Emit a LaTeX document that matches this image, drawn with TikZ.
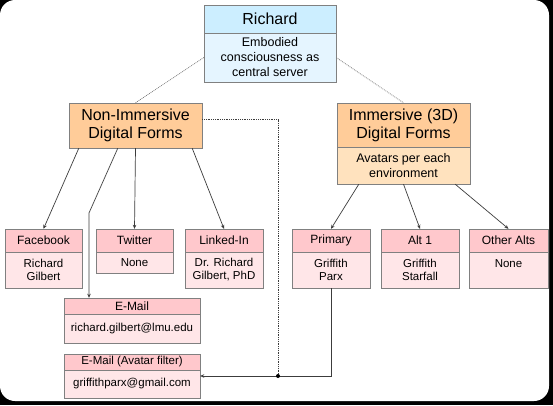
\documentclass[tikz,border=0pt]{standalone}
\usepackage{fontspec}
\setmainfont{Liberation Sans}
\usepackage{tikz}
\usetikzlibrary{arrows.meta,positioning,calc}
\definecolor{boxgrey}{RGB}{128,128,128}
\definecolor{linegrey}{RGB}{60,60,60}
\definecolor{richhead}{RGB}{204,238,255}
\definecolor{richbody}{RGB}{229,245,255}
\definecolor{formhead}{RGB}{255,204,153}
\definecolor{formbody}{RGB}{255,226,190}
\definecolor{acchead}{RGB}{255,200,204}
\definecolor{accbody}{RGB}{255,230,232}
\tikzset{
    topbox/.style={draw=boxgrey, fill=#1, inner sep=0pt, align=center,
                   font=\fontsize{16}{18}\selectfont},
    topbody/.style={draw=boxgrey, fill=#1, inner sep=0pt, align=center,
                    font=\fontsize{12.5}{15}\selectfont},
    acchd/.style={draw=boxgrey, fill=#1, inner sep=0pt, align=center,
                  font=\fontsize{12}{14}\selectfont},
    accbd/.style={draw=boxgrey, fill=#1, inner sep=0pt, align=center,
                  font=\fontsize{11.5}{13}\selectfont},
}
\begin{document}
\begin{tikzpicture}[
    x=1pt, y=-1pt,
    arr/.style={-{Stealth[length=4pt,width=3.5pt]}, line width=0.7pt, linegrey},
    link/.style={line width=0.7pt, linegrey},
    dots/.style={densely dotted, line width=0.8pt, boxgrey},
]
    % frame
    \fill[black] (0,0) rectangle (553,405);
    \fill[white, rounded corners=15pt] (0,0) rectangle (549,401);
    \useasboundingbox (0,0) rectangle (553,405);

    % top
    \node[topbox=richhead, minimum width=132pt, minimum height=28pt] (rich) at (270,19) {Richard};
    \node[topbody=richbody, minimum width=132pt, minimum height=49pt] (richtxt) at (270,57.5)
        {Embodied\\consciousness as\\central server};

    % forms
    \node[topbox=formhead, minimum width=133pt, minimum height=45pt] (nonimm) at (135.5,125.5)
        {Non-Immersive\\Digital Forms};
    \node[topbox=formhead, minimum width=133pt, minimum height=44pt] (imm) at (403.5,125)
        {Immersive (3D)\\Digital Forms};
    \node[topbody=formbody, minimum width=133pt, minimum height=37pt] (immtxt) at (403.5,165.5)
        {Avatars per each\\environment};

    % non-immersive accounts
    \node[acchd=acchead, minimum width=77pt, minimum height=23pt] (fb) at (43.5,240.5) {Facebook};
    \node[accbd=accbody, minimum width=77pt, minimum height=36pt] (fbtxt) at (43.5,270) {Richard\\Gilbert};
    \node[acchd=acchead, minimum width=77pt, minimum height=23pt] (tw) at (134.5,240.5) {Twitter};
    \node[accbd=accbody, minimum width=77pt, minimum height=21pt] (twtxt) at (134.5,262.5) {None};
    \node[acchd=acchead, minimum width=78pt, minimum height=23pt] (li) at (224,240.5) {Linked-In};
    \node[accbd=accbody, minimum width=78pt, minimum height=36pt] (litxt) at (224,270) {Dr. Richard\\Gilbert, PhD};
    \node[acchd=acchead, minimum width=136pt, minimum height=16pt] (mail) at (132,306) {E-Mail};
    \node[accbd=accbody, minimum width=136pt, minimum height=29pt] (mailtxt) at (132,328.5) {richard.gilbert@lmu.edu};
    \node[acchd=acchead, minimum width=136pt, minimum height=16pt, font=\fontsize{11.5}{13}\selectfont] (avmail) at (132,362) {E-Mail (Avatar filter)};
    \node[accbd=accbody, minimum width=136pt, minimum height=28pt] (avmailtxt) at (132,384) {griffithparx@gmail.com};

    % avatars
    \node[acchd=acchead, minimum width=78pt, minimum height=23pt] (prim) at (331,240.5) {Primary};
    \node[accbd=accbody, minimum width=78pt, minimum height=36pt] (primtxt) at (331,270) {Griffith\\Parx};
    \node[acchd=acchead, minimum width=78pt, minimum height=23pt] (alt) at (420,240.5) {Alt 1};
    \node[accbd=accbody, minimum width=78pt, minimum height=36pt] (alttxt) at (420,270) {Griffith\\Starfall};
    \node[acchd=acchead, minimum width=79pt, minimum height=23pt] (other) at (508.5,240.5) {Other Alts};
    \node[accbd=accbody, minimum width=79pt, minimum height=36pt] (othertxt) at (508.5,270) {None\\\mbox{}};

    \coordinate (mailbend) at (89,213);
    \coordinate (junc) at (278,376);

    \draw[dots] (richtxt.west) -- (nonimm.north);
    \draw[dots] (richtxt.east) -- (imm.north);
    \draw[dots, linegrey] ([yshift=6pt]nonimm.east) -| (junc);

    \draw[arr] ([xshift=10pt]nonimm.south west) -- (fb.north);
    \draw[arr] ([xshift=49pt]nonimm.south west) -- (mailbend) -- (mailbend |- mail.north);
    \draw[arr] (nonimm.south) -- (tw.north);
    \draw[arr] ([xshift=-10pt]nonimm.south east) -- (li.north);

    \draw[arr] ([xshift=22pt]immtxt.south west) -- (prim.north);
    \draw[arr] (immtxt.south) -- (alt.north);
    \draw[arr] ([xshift=-15pt]immtxt.south east) -- (other.north);

    \draw[link] (primtxt.south) |- (junc);
    \draw[arr] (junc) -- (junc -| avmailtxt.east);
    \fill[black] (junc) circle (2pt);
\end{tikzpicture}
\end{document}
